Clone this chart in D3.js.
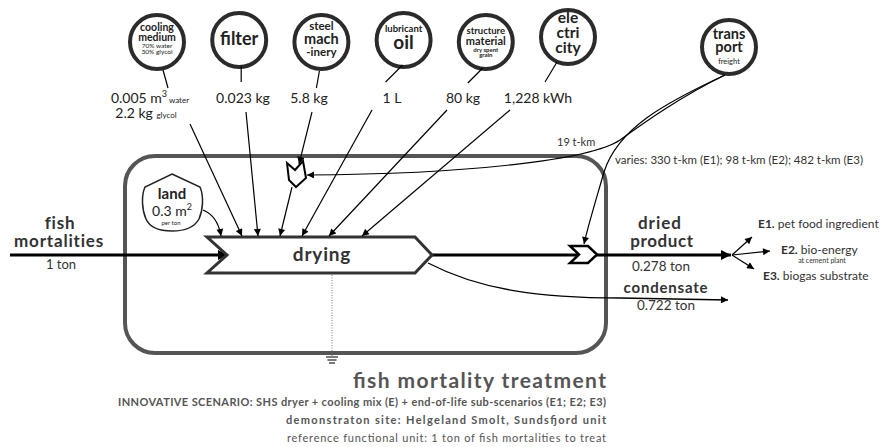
<!DOCTYPE html>
<html>
<head>
<meta charset="utf-8">
<script src="https://cdn.jsdelivr.net/npm/d3@7"></script>
<style>
  body { margin: 0; background: #fff; }
  svg { display: block; font-family: Lato, "Open Sans", sans-serif; }
</style>
</head>
<body>
<svg width="895" height="447"></svg>
<script>
var svg = d3.select('svg');

// data
var inputs = ['cooling medium', 'filter', 'steel machinery', 'lubricant oil', 'structure material', 'electricity'];
var inputAmounts = ['0.005', '0.023', '5.8', '1', '80', '1,228'];
var inputUnits = ['m', 'kg', 'kg', 'L', 'kg', 'kWh'];
var glycolKg = 2.2;
var feedTon = 1;
var landArea = 0.3;
var outputs = ['dried product', 'condensate'];
var outputTons = [0.278, 0.722];
var transportLocal = 19;
var transportEoL = [330, 98, 482];
var eolCodes = ['E1', 'E2', 'E3'];
var eolNames = ['pet food ingredient', 'bio-energy', 'biogas substrate'];

// circle captions (text, size, baseline, weight)
var badges = {
  'cooling medium': [['cooling', 10.5, 31, 'bold'], ['medium', 10.5, 41, 'bold'], ['70% water', 6.5, 48, 'normal'], ['30% glycol', 6.5, 54, 'normal']],
  'filter': [['filter', 18, 47, 'bold']],
  'steel machinery': [['steel', 11.5, 30, 'bold'], ['mach', 14.5, 44, 'bold'], ['-inery', 11.5, 56, 'bold']],
  'lubricant oil': [['lubricant', 9.5, 34, 'bold'], ['oil', 19, 51, 'bold']],
  'structure material': [['structure', 9.5, 34, 'bold'], ['material', 11, 45, 'bold'], ['dry spent', 6, 52, 'bold'], ['grain', 6, 57, 'bold']],
  'electricity': [['ele', 15.5, 28, 'bold'], ['ctri', 15.5, 43, 'bold'], ['city', 15.5, 58, 'bold']]
};

// scales
var xIn = d3.scalePoint().domain(inputs).range([157, 568]);
var yIn = d3.scaleOrdinal().domain(inputs).range([42, 40, 42, 40, 42, 37]);
var xLabel = d3.scaleOrdinal().domain(inputs).range([150, 243, 309, 392, 463, 538]);
var xTarget = d3.scaleOrdinal().domain(inputs).range([242, 258, 280, 302, 329, 362]);
var xStart = d3.scaleOrdinal().domain(inputs).range([190, 246, 312, 372, 447, 510]);
var yStart = d3.scaleOrdinal().domain(inputs).range([124, 112, 112, 110, 110, 110]);

var R = 27;
var dark = '#2b2b2b';

// markers
var defs = svg.append('defs');
defs.append('marker').attr('id', 'ah').attr('viewBox', '0 0 10 10')
  .attr('refX', 10).attr('refY', 5).attr('markerWidth', 8).attr('markerHeight', 7)
  .attr('markerUnits', 'userSpaceOnUse').attr('orient', 'auto')
  .append('path').attr('d', 'M0,0 L10,5 L0,10 Z').attr('fill', '#000');
defs.append('marker').attr('id', 'ahBig').attr('viewBox', '0 0 10 10')
  .attr('refX', 10).attr('refY', 5).attr('markerWidth', 12).attr('markerHeight', 10)
  .attr('markerUnits', 'userSpaceOnUse').attr('orient', 'auto')
  .append('path').attr('d', 'M0,0 L10,5 L0,10 Z').attr('fill', '#000');

// system boundary
svg.append('rect')
  .attr('x', 125).attr('y', 156).attr('width', 481).attr('height', 197)
  .attr('rx', 30).attr('ry', 30)
  .attr('fill', 'none').attr('stroke', '#555').attr('stroke-width', 4);

// dotted emission line + ground
svg.append('line').attr('x1', 332).attr('y1', 275).attr('x2', 332).attr('y2', 356)
  .attr('stroke', '#777').attr('stroke-width', 1).attr('stroke-dasharray', '1,1.5');
[[357, 6], [360, 4.5], [363, 3]].forEach(function(g){
  svg.append('line').attr('x1', 332 - g[1]).attr('x2', 332 + g[1]).attr('y1', g[0]).attr('y2', g[0])
    .attr('stroke', '#222').attr('stroke-width', 1.2);
});

// feed line
svg.append('line').attr('x1', 10).attr('y1', 255).attr('x2', 228).attr('y2', 255)
  .attr('stroke', '#000').attr('stroke-width', 3).attr('marker-end', 'url(#ahBig)');

// dried product line
svg.append('line').attr('x1', 432).attr('y1', 255).attr('x2', 731).attr('y2', 255)
  .attr('stroke', '#000').attr('stroke-width', 3).attr('marker-end', 'url(#ahBig)');

// condensate curve
svg.append('path').attr('d', 'M428,263 C480,290 540,298 620,298 L728,300')
  .attr('fill', 'none').attr('stroke', '#000').attr('stroke-width', 1.3).attr('marker-end', 'url(#ah)');

// drying process chevron
svg.append('path')
  .attr('d', 'M207,237 L415,237 L432,255 L415,273 L207,273 L227,255 Z')
  .attr('fill', '#fff').attr('stroke', '#333').attr('stroke-width', 3);
svg.append('text').attr('x', 322).attr('y', 261).attr('text-anchor', 'middle')
  .attr('font-size', 19).attr('font-weight', 'bold').attr('fill', '#333')
  .attr('letter-spacing', 0.8).text('drying');

// input circles
var gIn = svg.selectAll('g.input').data(inputs).enter().append('g').attr('class', 'input');
gIn.append('circle')
  .attr('cx', function(d){ return xIn(d); })
  .attr('cy', function(d){ return yIn(d); })
  .attr('r', R).attr('fill', '#fff').attr('stroke', dark).attr('stroke-width', 4);
gIn.each(function(d){
  var g = d3.select(this);
  var dy = yIn(d) - 42;
  badges[d].forEach(function(l){
    g.append('text').attr('x', xIn(d)).attr('y', l[2] + dy).attr('text-anchor', 'middle')
      .attr('font-size', l[1]).attr('font-weight', l[3]).attr('fill', '#222').text(l[0]);
  });
});

// short connectors circle -> amount
var conn = [[6, 28, 11, 46], [2, 26, 2, 42], [-2, 29, -5, 46], [-1, 25, -18, 42], [-3, 26, -18, 41], [-11, 25, -23, 45]];
gIn.append('line')
  .attr('x1', function(d, i){ return xIn(d) + conn[i][0]; })
  .attr('y1', function(d, i){ return yIn(d) + conn[i][1]; })
  .attr('x2', function(d, i){ return xIn(d) + conn[i][2]; })
  .attr('y2', function(d, i){ return yIn(d) + conn[i][3]; })
  .attr('stroke', '#000').attr('stroke-width', 1.2);

// amounts
gIn.append('text')
  .attr('x', function(d){ return xLabel(d); })
  .attr('y', 103).attr('text-anchor', 'middle')
  .attr('font-size', 14).attr('fill', '#222')
  .each(function(d, i){
    var t = d3.select(this);
    if (i === 0) {
      t.append('tspan').text(inputAmounts[i] + ' ' + inputUnits[i]);
      t.append('tspan').attr('font-size', 9).attr('dy', -6).text('3');
      t.append('tspan').attr('font-size', 8).attr('dy', 6).text(' water');
    } else {
      t.text(inputAmounts[i] + ' ' + inputUnits[i]);
    }
  });
svg.append('text').attr('x', 146).attr('y', 118).attr('text-anchor', 'middle')
  .attr('font-size', 14).attr('fill', '#222')
  .call(function(t){
    t.append('tspan').text(glycolKg + ' kg ');
    t.append('tspan').attr('font-size', 8).text('glycol');
  });

// long arrows to drying
gIn.filter(function(d){ return d !== 'steel machinery'; })
  .append('line')
  .attr('x1', function(d){ return xStart(d); })
  .attr('y1', function(d){ return yStart(d); })
  .attr('x2', function(d){ return xTarget(d); })
  .attr('y2', 236)
  .attr('stroke', '#000').attr('stroke-width', 1.2).attr('marker-end', 'url(#ah)');

// steel machinery goes through transport merge chevron
svg.append('line').attr('x1', xStart('steel machinery')).attr('y1', yStart('steel machinery'))
  .attr('x2', 299).attr('y2', 164)
  .attr('stroke', '#000').attr('stroke-width', 1.2).attr('marker-end', 'url(#ah)');
svg.append('line').attr('x1', 292).attr('y1', 187).attr('x2', xTarget('steel machinery')).attr('y2', 236)
  .attr('stroke', '#000').attr('stroke-width', 1.2).attr('marker-end', 'url(#ah)');
svg.append('path')
  .attr('d', 'M287,163 L295,170 L303,161 L306,178 L296,187 L289,180 Z')
  .attr('fill', '#fff').attr('stroke', '#000').attr('stroke-width', 2);

// land
svg.append('path')
  .attr('d', 'M172,174 L200,187 C204,196 203,210 199,219 C194,228 184,231 172,231 C160,231 150,228 146,219 C142,210 141,196 145,187 Z')
  .attr('fill', '#fff').attr('stroke', '#222').attr('stroke-width', 1.5);
svg.append('text').attr('x', 172).attr('y', 199).attr('text-anchor', 'middle')
  .attr('font-size', 15).attr('font-weight', 'bold').attr('fill', '#222').text('land');
svg.append('text').attr('x', 172).attr('y', 216).attr('text-anchor', 'middle')
  .attr('font-size', 14).attr('fill', '#222')
  .call(function(t){
    t.append('tspan').text(landArea + ' m');
    t.append('tspan').attr('font-size', 9).attr('dy', -6).text('2');
  });
svg.append('text').attr('x', 171).attr('y', 225).attr('text-anchor', 'middle')
  .attr('font-size', 6).attr('fill', '#222').text('per ton');
svg.append('path').attr('d', 'M203,210 C213,214 219,224 221,236')
  .attr('fill', 'none').attr('stroke', '#000').attr('stroke-width', 1.2).attr('marker-end', 'url(#ah)');

// transport
var tx = 729, ty = 47;
svg.append('circle').attr('cx', tx).attr('cy', ty).attr('r', R)
  .attr('fill', '#fff').attr('stroke', dark).attr('stroke-width', 4);
svg.append('text').attr('x', tx).attr('y', 39).attr('text-anchor', 'middle')
  .attr('font-size', 14.5).attr('font-weight', 'bold').attr('fill', '#222').text('trans');
svg.append('text').attr('x', tx).attr('y', 52).attr('text-anchor', 'middle')
  .attr('font-size', 14.5).attr('font-weight', 'bold').attr('fill', '#222').text('port');
svg.append('text').attr('x', tx).attr('y', 64).attr('text-anchor', 'middle')
  .attr('font-size', 7.5).attr('fill', '#222').text('freight');

svg.append('path').attr('d', 'M725,75 C680,97 645,122 620,140 C590,160 470,174 307,175')
  .attr('fill', 'none').attr('stroke', '#000').attr('stroke-width', 1.2).attr('marker-end', 'url(#ah)');
svg.append('path').attr('d', 'M725,75 C665,103 618,128 604,172 C596,200 588,226 584,244')
  .attr('fill', 'none').attr('stroke', '#000').attr('stroke-width', 1.2).attr('marker-end', 'url(#ah)');
svg.append('text').attr('x', 557).attr('y', 146).attr('font-size', 11).attr('fill', '#333')
  .text(transportLocal + ' t-km');
svg.append('text').attr('x', 615).attr('y', 164).attr('font-size', 11).attr('fill', '#333')
  .attr('textLength', 248).attr('lengthAdjust', 'spacingAndGlyphs')
  .text('varies: ' + transportEoL.map(function(v, i){ return v + ' t-km (' + eolCodes[i] + ')'; }).join('; '));

// transport merge chevron on product line
svg.append('path')
  .attr('d', 'M570,246 L588,246 L597,254.5 L588,263 L570,263 L579,254.5 Z')
  .attr('fill', '#fff').attr('stroke', '#000').attr('stroke-width', 2.5);

// feed labels
svg.append('text').attr('x', 60).attr('y', 229).attr('text-anchor', 'middle')
  .attr('font-size', 17).attr('font-weight', 'bold').attr('fill', '#333').attr('letter-spacing', 0.8).text('fish');
svg.append('text').attr('x', 59).attr('y', 247).attr('text-anchor', 'middle')
  .attr('font-size', 17).attr('font-weight', 'bold').attr('fill', '#333').attr('letter-spacing', 0.8).text('mortalities');
svg.append('text').attr('x', 61).attr('y', 269).attr('text-anchor', 'middle')
  .attr('font-size', 13).attr('fill', '#333').text(feedTon + ' ton');

// output labels
var outY = [[229, 247, 271], [293, 310]];
svg.append('text').attr('x', 660).attr('y', outY[0][0]).attr('text-anchor', 'middle')
  .attr('font-size', 17).attr('font-weight', 'bold').attr('fill', '#333').attr('letter-spacing', 1).text(outputs[0].split(' ')[0]);
svg.append('text').attr('x', 662).attr('y', outY[0][1]).attr('text-anchor', 'middle')
  .attr('font-size', 17).attr('font-weight', 'bold').attr('fill', '#333').attr('letter-spacing', 0.6).text(outputs[0].split(' ')[1]);
svg.append('text').attr('x', 661).attr('y', outY[0][2]).attr('text-anchor', 'middle')
  .attr('font-size', 13.5).attr('fill', '#333').text(outputTons[0] + ' ton');
svg.append('text').attr('x', 666).attr('y', outY[1][0]).attr('text-anchor', 'middle')
  .attr('font-size', 15).attr('font-weight', 'bold').attr('fill', '#333').attr('letter-spacing', 0.8).text(outputs[1]);
svg.append('text').attr('x', 666).attr('y', outY[1][1]).attr('text-anchor', 'middle')
  .attr('font-size', 13.5).attr('fill', '#333').text(outputTons[1] + ' ton');

// end of life branches
var eolTip = [[752, 237], [770, 251], [754, 269]];
var eolText = [[758, 228], [781, 254], [763, 280]];
eolCodes.forEach(function(c, i){
  svg.append('line').attr('x1', 732).attr('y1', 255).attr('x2', eolTip[i][0]).attr('y2', eolTip[i][1])
    .attr('stroke', '#000').attr('stroke-width', 1.2).attr('marker-end', 'url(#ah)');
  var t = svg.append('text').attr('x', eolText[i][0]).attr('y', eolText[i][1])
    .attr('font-size', 12).attr('fill', '#333');
  t.append('tspan').attr('font-weight', 'bold').text(c + '.');
  t.append('tspan').text(' ' + eolNames[i]);
});
svg.append('text').attr('x', 822).attr('y', 263).attr('text-anchor', 'middle')
  .attr('font-size', 7).attr('fill', '#333').text('at cement plant');

// titles
var titleLines = [
  ['fish mortality treatment', 21, 'bold', 388, 253],
  ['INNOVATIVE SCENARIO: SHS dryer + cooling mix (E) + end-of-life sub-scenarios (E1; E2; E3)', 11, 'bold', 406, 488],
  ['demonstraton site: Helgeland Smolt, Sundsfjord unit', 11, 'bold', 424, 320],
  ['reference functional unit: 1 ton of fish mortalities to treat', 11, 'normal', 442, 319]
];
titleLines.forEach(function(l){
  svg.append('text').attr('x', 606).attr('y', l[3]).attr('text-anchor', 'end')
    .attr('font-size', l[1]).attr('font-weight', l[2]).attr('fill', '#555')
    .attr('textLength', l[4]).attr('lengthAdjust', 'spacing')
    .text(l[0]);
});
</script>
</body>
</html>
